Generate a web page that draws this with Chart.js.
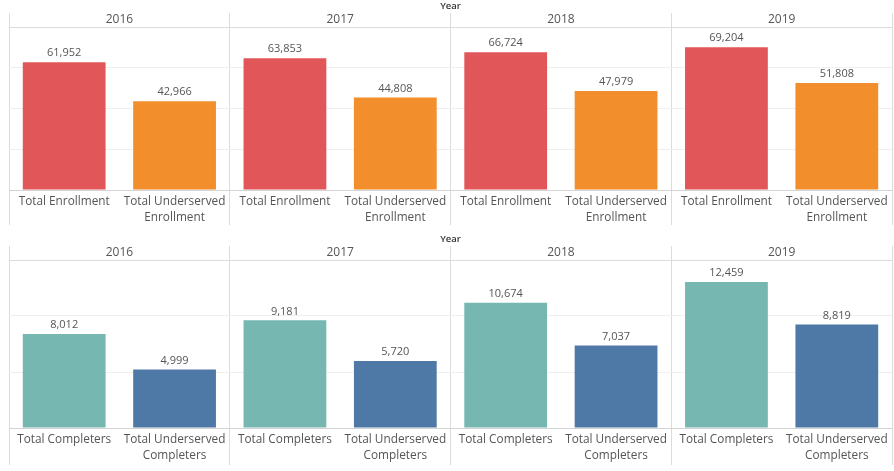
<!DOCTYPE html>
<html>
<head>
<meta charset="utf-8">
<script src="https://cdn.jsdelivr.net/npm/chart.js@4.4.1/dist/chart.umd.min.js"></script>
<style>
  html, body { margin: 0; padding: 0; background: #ffffff; }
  body { width: 894px; height: 471px; position: relative; overflow: hidden; }
  .panel { position: absolute; left: 0; width: 894px; }
  #p1 { top: 0; height: 230px; }
  #p2 { top: 233px; height: 238px; }
</style>
</head>
<body>
<div class="panel" id="p1"><canvas id="c1"></canvas></div>
<div class="panel" id="p2"><canvas id="c2"></canvas></div>
<script>
// ---- data ----
const years = ['2016', '2017', '2018', '2019'];
const enrollmentCategories = [['Total Enrollment'], ['Total Underserved', 'Enrollment']];
const completerCategories = [['Total Completers'], ['Total Underserved', 'Completers']];
const totalEnrollment = [61952, 63853, 66724, 69204];
const underservedEnrollment = [42966, 44808, 47979, 51808];
const totalCompleters = [8012, 9181, 10674, 12459];
const underservedCompleters = [4999, 5720, 7037, 8819];

const FONT = "'Open Sans', sans-serif";
const TEXT = '#555555';

function interleave(a, b) {
  const out = [];
  a.forEach((v, i) => { out.push(v); out.push(b[i]); });
  return out;
}
function repeatLabels(cats) {
  const out = [];
  years.forEach(() => { out.push(cats[0]); out.push(cats[1]); });
  return out;
}

const valueLabels = {
  id: 'valueLabels',
  afterDatasetsDraw(chart) {
    const ctx = chart.ctx;
    const meta = chart.getDatasetMeta(0);
    const data = chart.data.datasets[0].data;
    ctx.save();
    ctx.font = '11px ' + FONT;
    ctx.fillStyle = TEXT;
    ctx.textAlign = 'center';
    ctx.textBaseline = 'middle';
    meta.data.forEach((bar, i) => {
      ctx.fillText(data[i].toLocaleString('en-US'), bar.x, bar.y - 9);
    });
    ctx.restore();
  }
};

function makeChart(id, cats, a, b, colA, colB, yMax, step, xHeight, xTick) {
  return new Chart(document.getElementById(id), {
    type: 'bar',
    data: {
      labels: repeatLabels(cats),
      datasets: [{
        data: interleave(a, b),
        backgroundColor: interleave(a.map(() => colA), b.map(() => colB)),
        barPercentage: 0.75,
        categoryPercentage: 1.0,
        borderWidth: 0
      }]
    },
    options: {
      responsive: true,
      maintainAspectRatio: false,
      animation: false,
      layout: { padding: { left: 9, right: 2, top: 0, bottom: 0 } },
      plugins: { legend: { display: false }, tooltip: { enabled: false } },
      scales: {
        x: {
          type: 'category',
          position: 'bottom',
          offset: true,
          grid: {
            offset: true,
            drawOnChartArea: true,
            drawTicks: true,
            tickLength: xTick,
            lineWidth: 1,
            color: (ctx) => (ctx.index === undefined || ctx.index % 2 === 0) ? '#dcdcdc' : 'rgba(0,0,0,0)'
          },
          border: { display: true, color: '#d4d4d4' },
          ticks: {
            autoSkip: false, maxRotation: 0, minRotation: 0,
            padding: -xTick + 4,
            color: TEXT,
            font: { family: FONT, size: 11.8, lineHeight: 1.33 }
          },
          afterFit: (s) => { s.height = xHeight; }
        },
        x2: {
          type: 'category',
          position: 'top',
          labels: years,
          offset: true,
          grid: {
            offset: true,
            drawOnChartArea: false,
            drawTicks: true,
            tickLength: 14,
            color: '#dcdcdc'
          },
          border: { display: true, color: '#dcdcdc' },
          title: {
            display: true, text: 'Year', color: '#333333',
            font: { family: FONT, size: 9.5, weight: '600' },
            padding: { top: 1, bottom: 0 }
          },
          ticks: {
            padding: -14,
            color: TEXT,
            font: { family: FONT, size: 12 }
          },
          afterFit: (s) => { s.height = 27; }
        },
        y: {
          min: 0, max: yMax,
          ticks: { display: false, stepSize: step },
          grid: { drawTicks: false, color: '#efefef' },
          border: { display: false },
          afterFit: (s) => { s.width = 0; }
        }
      }
    },
    plugins: [valueLabels]
  });
}

makeChart('c1', enrollmentCategories, totalEnrollment, underservedEnrollment,
  '#E15759', '#F28E2B', 79000, 20000, 40, 35);
makeChart('c2', completerCategories, totalCompleters, underservedCompleters,
  '#76B7B2', '#4E79A7', 14330, 5000, 43, 37);
</script>
</body>
</html>
